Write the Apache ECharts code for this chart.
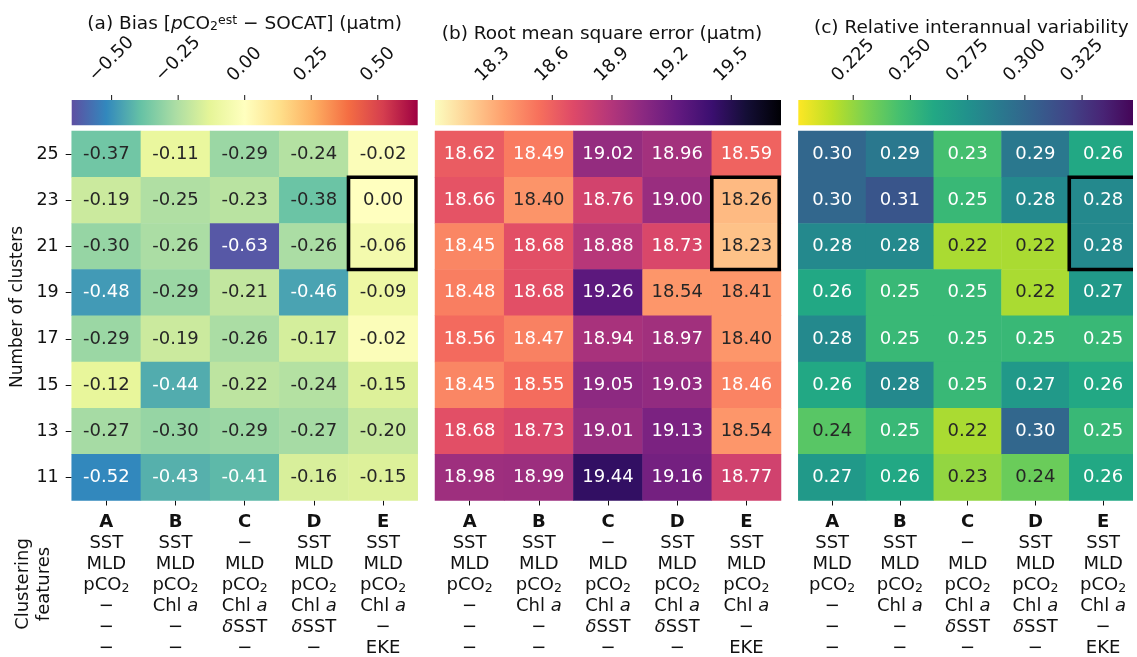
<!DOCTYPE html>
<html><head><meta charset="utf-8">
<script src="https://cdn.jsdelivr.net/npm/echarts@6/dist/echarts.min.js"></script>
<style>html,body{margin:0;padding:0;background:#fff}#c{width:1137px;height:657px}</style>
</head><body><div id="c"></div>
<script>
// ---------------- DATA ----------------
const clusters = ['25','23','21','19','17','15','13','11'];   // rows, top to bottom
const columns = ['A','B','C','D','E'];
const columnFeatures = [
  ['SST','MLD','pCO2','−','−','−'],
  ['SST','MLD','pCO2','Chl a','−','−'],
  ['−','MLD','pCO2','Chl a','δSST','−'],
  ['SST','MLD','pCO2','Chl a','δSST','−'],
  ['SST','MLD','pCO2','Chl a','−','EKE']
];
// annotated values
const bias = [
  [-0.37,-0.11,-0.29,-0.24,-0.02],
  [-0.19,-0.25,-0.23,-0.38, 0.00],
  [-0.30,-0.26,-0.63,-0.26,-0.06],
  [-0.48,-0.29,-0.21,-0.46,-0.09],
  [-0.29,-0.19,-0.26,-0.17,-0.02],
  [-0.12,-0.44,-0.22,-0.24,-0.15],
  [-0.27,-0.30,-0.29,-0.27,-0.20],
  [-0.52,-0.43,-0.41,-0.16,-0.15]
];
const rmse = [
  [18.62,18.49,19.02,18.96,18.59],
  [18.66,18.40,18.76,19.00,18.26],
  [18.45,18.68,18.88,18.73,18.23],
  [18.48,18.68,19.26,18.54,18.41],
  [18.56,18.47,18.94,18.97,18.40],
  [18.45,18.55,19.05,19.03,18.46],
  [18.68,18.73,19.01,19.13,18.54],
  [18.98,18.99,19.44,19.16,18.77]
];
const riav = [
  [0.30,0.29,0.23,0.29,0.26],
  [0.30,0.31,0.25,0.28,0.28],
  [0.28,0.28,0.22,0.22,0.28],
  [0.26,0.25,0.25,0.22,0.27],
  [0.28,0.25,0.25,0.25,0.25],
  [0.26,0.28,0.25,0.27,0.26],
  [0.24,0.25,0.22,0.30,0.25],
  [0.27,0.26,0.23,0.24,0.26]
];
// cell shading (on the colour bar scale)
const biasShade = [
  [-0.37,-0.11,-0.29,-0.24,-0.02],
  [-0.19,-0.25,-0.23,-0.38, 0.00],
  [-0.30,-0.26,-0.63,-0.26,-0.06],
  [-0.48,-0.29,-0.21,-0.46,-0.09],
  [-0.29,-0.19,-0.26,-0.17,-0.02],
  [-0.12,-0.44,-0.22,-0.24,-0.15],
  [-0.27,-0.30,-0.29,-0.27,-0.20],
  [-0.52,-0.43,-0.41,-0.16,-0.15]
];
const rmseShade = [
  [18.62,18.49,19.02,18.96,18.59],
  [18.66,18.40,18.76,19.00,18.26],
  [18.45,18.68,18.88,18.73,18.23],
  [18.48,18.68,19.26,18.39,18.39],
  [18.56,18.47,18.94,18.97,18.39],
  [18.45,18.55,19.05,19.03,18.46],
  [18.68,18.73,19.01,19.13,18.39],
  [18.98,18.99,19.44,19.16,18.77]
];
const riavShade = [
  [0.30,0.29,0.245,0.29,0.26],
  [0.30,0.31,0.25,0.28,0.28],
  [0.28,0.28,0.22,0.22,0.28],
  [0.26,0.25,0.25,0.22,0.27],
  [0.28,0.25,0.25,0.25,0.25],
  [0.26,0.28,0.25,0.27,0.26],
  [0.24,0.25,0.22,0.30,0.25],
  [0.27,0.26,0.225,0.235,0.26]
];
const biasRange = [-0.65, 0.65];
const rmseRange = [18.01, 19.75];
const riavRange = [0.201, 0.349];
const biasTicks = [-0.50,-0.25,0.00,0.25,0.50];
const biasTickLabels = ['−0.50','−0.25','0.00','0.25','0.50'];
const rmseTicks = [18.3,18.6,18.9,19.2,19.5];
const rmseTickLabels = ['18.3','18.6','18.9','19.2','19.5'];
const riavTicks = [0.225,0.250,0.275,0.300,0.325];
const riavTickLabels = ['0.225','0.250','0.275','0.300','0.325'];
const highlightColumn = 'E';
const highlightRows = ['23','21'];

// ---------------- STYLE ----------------
const FONT = '"DejaVu Sans", sans-serif';
const TXT = '#111111';
const SPECTRAL_R = ['#5e4fa2','#3288bd','#66c2a5','#abdda4','#e6f598','#ffffbf','#fee08b','#fdae61','#f46d43','#d53e4f','#9e0142'];
const MAGMA_R = ['#fcfdbf','#fecf92','#fe9f6d','#f7705c','#de4968','#b73779','#8c2981','#641a80','#3b0f70','#140e36','#000004'];
const VIRIDIS_R = ['#fde725','#bddf26','#7ad151','#44bf70','#22a884','#21918c','#2a788e','#355f8d','#414487','#482475','#440154'];

function hex2rgb(h){return [1,3,5].map(i=>parseInt(h.substr(i,2),16));}
function cmapColor(cm,t){
  t=Math.max(0,Math.min(1,t));
  const f=t*(cm.length-1), i=Math.min(Math.floor(f),cm.length-2), r=f-i;
  const a=hex2rgb(cm[i]), b=hex2rgb(cm[i+1]);
  return a.map((v,k)=>v+(b[k]-v)*r);
}
function lum(c){
  const l=c.map(v=>{v/=255;return v<=0.03928?v/12.92:Math.pow((v+0.055)/1.055,2.4);});
  return 0.2126*l[0]+0.7152*l[1]+0.0722*l[2];
}
const measureCtx=document.createElement('canvas').getContext('2d');

const GRID_TOP=131, GRID_H=370, GRID_W=346, CB_TOP=100, CB_H=25.3, TICK_FS=18;
const panels=[
  {vals:bias, shade:biasShade, cm:SPECTRAL_R, range:biasRange, ticks:biasTicks, tl:biasTickLabels, left:71.7},
  {vals:rmse, shade:rmseShade, cm:MAGMA_R, range:rmseRange, ticks:rmseTicks, tl:rmseTickLabels, left:435},
  {vals:riav, shade:riavShade, cm:VIRIDIS_R, range:riavRange, ticks:riavTicks, tl:riavTickLabels, left:798.3}
];

function fmtFeature(f){
  if(f==='pCO2') return '{t|pCO}{s|2}';
  if(f==='Chl a') return '{t|Chl }{i|a}';
  if(f==='δSST') return '{i|δ}{t|SST}';
  return '{t|'+f+'}';
}
const richX={
  b:{fontFamily:FONT,fontSize:18,fontWeight:'bold',lineHeight:21,color:TXT},
  t:{fontFamily:FONT,fontSize:18,lineHeight:21,color:TXT},
  i:{fontFamily:FONT,fontSize:18,fontStyle:'italic',lineHeight:21,color:TXT},
  s:{fontFamily:FONT,fontSize:12.5,lineHeight:12,verticalAlign:'bottom',color:TXT}
};

const grid=[],xAxis=[],yAxis=[],series=[],visualMap=[];
panels.forEach((p,k)=>{
  grid.push({left:p.left,top:GRID_TOP,width:GRID_W,height:GRID_H});
  xAxis.push({type:'category',gridIndex:k,data:columns,position:'bottom',
    axisLine:{show:false},
    axisTick:{show:true,alignWithLabel:true,length:5,lineStyle:{color:TXT,width:1}},
    axisLabel:{margin:11,interval:0,formatter:(v,idx)=>'{b|'+v+'}\n'+columnFeatures[idx].map(fmtFeature).join('\n'),rich:richX},
    splitLine:{show:false}});
  yAxis.push({type:'category',gridIndex:k,data:clusters,inverse:true,
    axisLine:{show:false},
    axisTick:{show:k===0,alignWithLabel:true,length:6,lineStyle:{color:TXT,width:1}},
    axisLabel:{show:k===0,margin:13,fontSize:17.5,fontFamily:FONT,color:TXT},
    splitLine:{show:false}});
});
panels.forEach((p,k)=>{
  grid.push({left:p.left,top:CB_TOP,width:GRID_W,height:CB_H});
  xAxis.push({type:'value',gridIndex:3+k,min:p.range[0],max:p.range[1],show:false});
  yAxis.push({type:'value',gridIndex:3+k,min:0,max:1,show:false});
});

panels.forEach((p,k)=>{
  const data=[];
  p.vals.forEach((row,i)=>row.forEach((v,j)=>{
    const s=p.shade[i][j];
    const c=cmapColor(p.cm,(s-p.range[0])/(p.range[1]-p.range[0]));
    data.push({value:[j,i,s,v],label:{color:lum(c)>0.408?'#262626':'#ffffff'}});
  }));
  series.push({type:'heatmap',xAxisIndex:k,yAxisIndex:k,data:data,
    label:{show:true,fontSize:18,fontFamily:FONT,formatter:q=>q.value[3].toFixed(2)},
    itemStyle:{borderWidth:0},emphasis:{disabled:true},progressive:0});
  visualMap.push({type:'continuous',show:false,seriesIndex:k,dimension:2,min:p.range[0],max:p.range[1],inRange:{color:p.cm}});
});
// highlight boxes
panels.forEach((p,k)=>{
  const col=columns.indexOf(highlightColumn);
  const rIdx=highlightRows.map(r=>clusters.indexOf(r));
  series.push({type:'custom',xAxisIndex:k,yAxisIndex:k,silent:true,z:10,
    data:[[col,Math.min(...rIdx),Math.max(...rIdx)]],
    renderItem:(params,api)=>{
      const a=api.coord([api.value(0),api.value(1)]);
      const b=api.coord([api.value(0),api.value(2)]);
      const sz=api.size([1,1]);
      const lw=3.6;
      const x0=a[0]-sz[0]/2, x1=a[0]+sz[0]/2-lw/2;
      const y0=a[1]-sz[1]/2, y1=b[1]+sz[1]/2;
      return {type:'rect',shape:{x:x0,y:y0,width:x1-x0,height:y1-y0},style:{fill:'none',stroke:'#000',lineWidth:lw}};
    }});
});
// colorbars
panels.forEach((p,k)=>{
  const stops=p.cm.map((c,i)=>({offset:i/(p.cm.length-1),color:c}));
  series.push({type:'custom',xAxisIndex:3+k,yAxisIndex:3+k,silent:true,
    data:[[p.range[0],p.range[1]]],
    renderItem:(params,api)=>{
      const a=api.coord([api.value(0),0]), b=api.coord([api.value(1),1]);
      return {type:'rect',shape:{x:a[0],y:b[1],width:b[0]-a[0],height:a[1]-b[1]},
        style:{fill:new echarts.graphic.LinearGradient(0,0,1,0,stops)}};
    }});
  series.push({type:'custom',xAxisIndex:3+k,yAxisIndex:3+k,silent:true,
    data:p.ticks.map((t,i)=>[t,1,i]),
    renderItem:(params,api)=>{
      const top=api.coord([api.value(0),1]);
      const text=p.tl[api.value(2)];
      measureCtx.font=TICK_FS+'px '+FONT;
      const L=measureCtx.measureText(text).width, h=TICK_FS*0.75;
      const cx=top[0], bottom=top[1]-16.5;
      const cy=bottom-(L+h)*0.3536;
      return {type:'group',children:[
        {type:'line',shape:{x1:cx,y1:top[1],x2:cx,y2:top[1]-5},style:{stroke:TXT,lineWidth:1}},
        {type:'text',x:cx,y:cy,rotation:Math.PI/4,
          style:{text:text,fontSize:TICK_FS,fontFamily:FONT,fill:TXT,align:'center',verticalAlign:'middle'}}
      ]};
    }});
});

const titleRich={
  i:{fontFamily:FONT,fontSize:18.5,fontStyle:'italic',fill:TXT},
  sub:{fontFamily:FONT,fontSize:12.5,lineHeight:10,verticalAlign:'bottom',fill:TXT},
  sup:{fontFamily:FONT,fontSize:12.5,lineHeight:10,verticalAlign:'top',fill:TXT}
};
const option={
  animation:false,
  backgroundColor:'#ffffff',
  grid:grid,xAxis:xAxis,yAxis:yAxis,visualMap:visualMap,series:series,
  graphic:[
    {type:'text',x:244.7,y:24,z:100,style:{text:'(a) Bias [{i|p}CO{sub|2}{sup|est} − SOCAT] (µatm)',rich:titleRich,fontSize:18.5,fontFamily:FONT,fill:TXT,align:'center',verticalAlign:'middle'}},
    {type:'text',x:602,y:34,z:100,style:{text:'(b) Root mean square error (µatm)',fontSize:18.5,fontFamily:FONT,fill:TXT,align:'center',verticalAlign:'middle'}},
    {type:'text',x:971.3,y:28,z:100,style:{text:'(c) Relative interannual variability',fontSize:18.5,fontFamily:FONT,fill:TXT,align:'center',verticalAlign:'middle'}},
    {type:'text',x:17.5,y:307,rotation:Math.PI/2,z:100,style:{text:'Number of clusters',fontSize:17,fontFamily:FONT,fill:TXT,align:'center',verticalAlign:'middle'}},
    {type:'text',x:33.5,y:584,rotation:Math.PI/2,z:100,style:{text:'Clustering\nfeatures',fontSize:18,lineHeight:21,fontFamily:FONT,fill:TXT,align:'center',verticalAlign:'middle'}},
    {type:'rect',shape:{x:1133,y:0,width:10,height:657},style:{fill:'#ffffff'},z:200}
  ]
};
const chart=echarts.init(document.getElementById('c'));
chart.setOption(option);
</script></body></html>
